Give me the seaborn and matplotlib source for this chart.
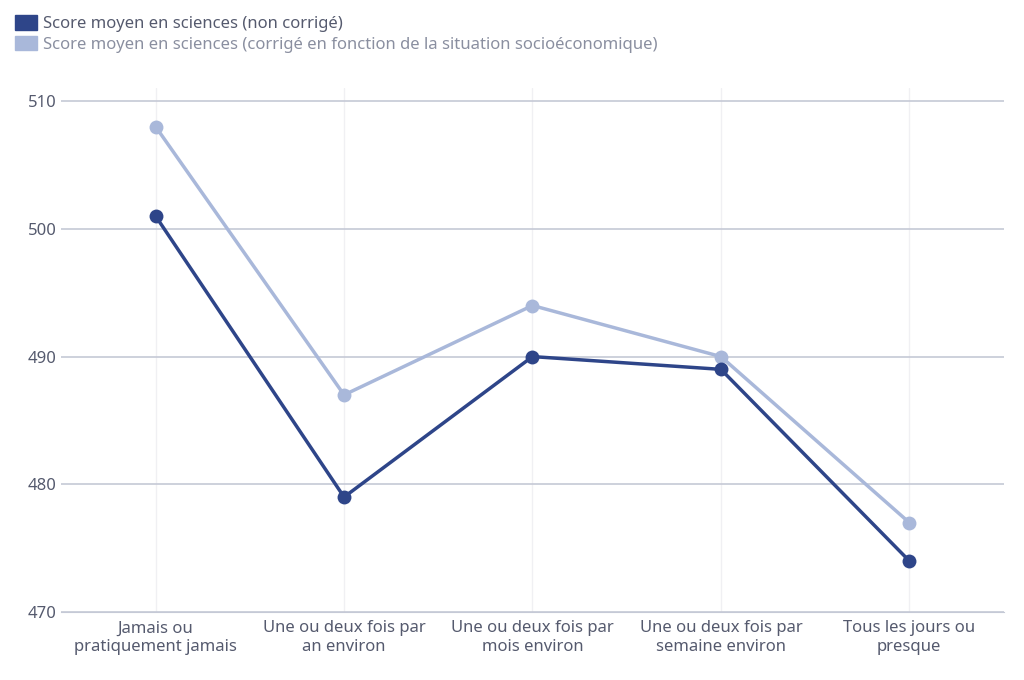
import matplotlib
matplotlib.use("Agg")
import matplotlib.pyplot as plt
import seaborn as sns
import pandas as pd

categories = ["Jamais ou\npratiquement jamais", "Une ou deux fois par\nan environ",
              "Une ou deux fois par\nmois environ", "Une ou deux fois par\nsemaine environ",
              "Tous les jours ou\npresque"]
raw_scores = [501, 479, 490, 489, 474]
adj_scores = [508, 487, 494, 490, 477]
label_raw = "Score moyen en sciences (non corrigé)"
label_adj = "Score moyen en sciences (corrigé en fonction de la situation socioéconomique)"

sns.set_style("white")
plt.rcParams["font.family"] = ["Noto Sans", "DejaVu Sans"]

df = pd.DataFrame({
    "x": list(range(len(categories))) * 2,
    "score": raw_scores + adj_scores,
    "serie": [label_raw] * 5 + [label_adj] * 5,
})
palette = {label_raw: "#2e4589", label_adj: "#a9b8da"}

fig, ax = plt.subplots(figsize=(10.24, 6.8), dpi=100)
fig.subplots_adjust(left=0.06, right=0.98, top=0.87, bottom=0.1)
for serie in [label_adj, label_raw]:
    sub = df[df["serie"] == serie]
    sns.lineplot(data=sub, x="x", y="score", color=palette[serie], lw=2.5,
                 marker="o", markersize=10, markeredgewidth=0, ax=ax, legend=False)

ax.set_ylim(470, 511)
ax.set_yticks([470, 480, 490, 500, 510])
ax.set_xlim(-0.5, 4.5)
ax.set_xticks(range(5))
ax.set_xticklabels(categories, fontsize=12, color="#555a6e")
ax.tick_params(axis="y", labelsize=12, labelcolor="#555a6e", length=0)
ax.tick_params(axis="x", length=0, pad=6)
ax.grid(axis="y", color="#c5c9d6", lw=1.2)
ax.grid(axis="x", color="#f0f0f3", lw=1)
ax.set_xlabel("")
ax.set_ylabel("")
for s in ["top", "right", "left"]:
    ax.spines[s].set_visible(False)
ax.spines["bottom"].set_color("#c5c9d6")

from matplotlib.patches import Patch
handles = [Patch(color=palette[label_raw], label=label_raw),
           Patch(color=palette[label_adj], label=label_adj)]
leg = fig.legend(handles=handles, loc="upper left", bbox_to_anchor=(0.0, 1.0),
                 frameon=False, fontsize=12, handlelength=1.3, handleheight=1.0,
                 labelspacing=0.2, handletextpad=0.4)
leg.get_texts()[0].set_color("#555a6e")
leg.get_texts()[1].set_color("#8a8fa0")

fig.savefig("out.png")
